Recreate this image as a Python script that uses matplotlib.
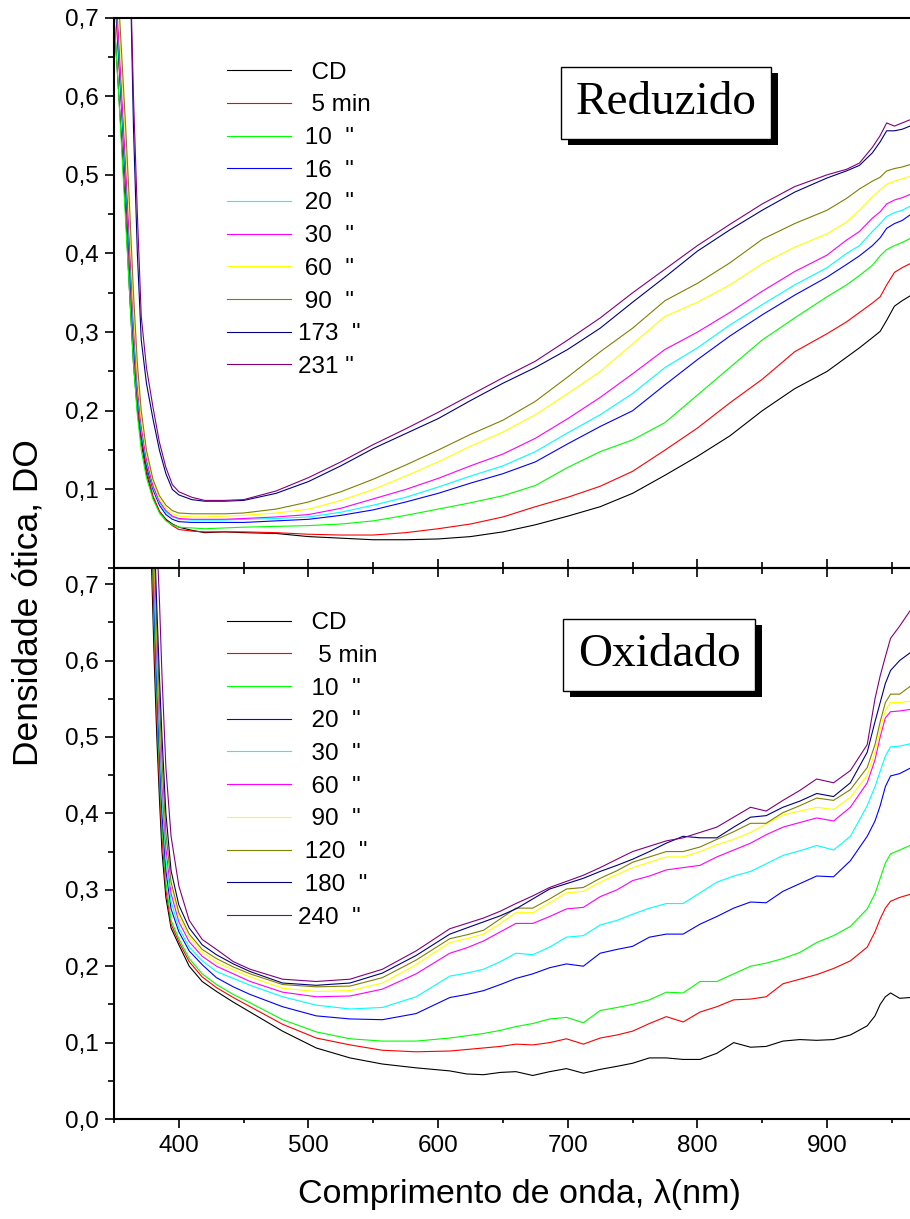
import matplotlib
matplotlib.use("Agg")
import matplotlib.pyplot as plt
import matplotlib.patheffects as pe
from matplotlib.ticker import MultipleLocator, FixedLocator

plt.rcParams['font.family'] = ['Liberation Sans', 'DejaVu Sans']

# ---- Reduzido (top panel) ----
T_WL = [350, 353, 356, 359, 362, 365, 368, 371, 375, 380,
        385, 390, 395, 400, 410, 420, 435, 450, 475, 500,
        525, 550, 575, 600, 625, 650, 675, 700, 725, 750,
        775, 800, 825, 850, 875, 900, 915, 925, 935, 941,
        946, 952, 958, 964]

RED_CD = [0.70, 0.62, 0.54, 0.45, 0.35, 0.26, 0.20, 0.16, 0.12, 0.09,
          0.072, 0.062, 0.056, 0.052, 0.048, 0.045, 0.046, 0.045, 0.044, 0.040,
          0.038, 0.036, 0.036, 0.037, 0.040, 0.046, 0.055, 0.066, 0.078, 0.095,
          0.118, 0.142, 0.168, 0.200, 0.228, 0.250, 0.268, 0.280, 0.293, 0.301,
          0.315, 0.333, 0.340, 0.346]
RED_5 = [0.75, 0.66, 0.58, 0.48, 0.38, 0.28, 0.21, 0.165, 0.125, 0.092,
         0.072, 0.061, 0.054, 0.049, 0.047, 0.046, 0.046, 0.046, 0.045, 0.043,
         0.042, 0.042, 0.045, 0.050, 0.056, 0.065, 0.078, 0.090, 0.104, 0.123,
         0.150, 0.178, 0.210, 0.240, 0.275, 0.298, 0.313, 0.325, 0.337, 0.345,
         0.360, 0.376, 0.382, 0.387]
RED_10 = [0.70, 0.62, 0.53, 0.44, 0.35, 0.26, 0.195, 0.15, 0.115, 0.088,
          0.070, 0.060, 0.055, 0.052, 0.051, 0.050, 0.051, 0.052, 0.053, 0.054,
          0.056, 0.060, 0.067, 0.075, 0.083, 0.092, 0.105, 0.128, 0.148, 0.163,
          0.185, 0.220, 0.255, 0.290, 0.318, 0.345, 0.360, 0.372, 0.385, 0.397,
          0.405, 0.410, 0.414, 0.419]
RED_16 = [0.76, 0.67, 0.58, 0.49, 0.39, 0.29, 0.22, 0.17, 0.13, 0.10,
          0.080, 0.068, 0.062, 0.059, 0.058, 0.058, 0.058, 0.058, 0.060, 0.062,
          0.067, 0.074, 0.084, 0.095, 0.108, 0.120, 0.135, 0.158, 0.180, 0.200,
          0.233, 0.265, 0.295, 0.322, 0.347, 0.370, 0.386, 0.397, 0.410, 0.420,
          0.432, 0.438, 0.442, 0.449]
RED_20 = [0.77, 0.68, 0.59, 0.50, 0.40, 0.30, 0.225, 0.175, 0.135, 0.103,
          0.083, 0.071, 0.065, 0.062, 0.061, 0.061, 0.061, 0.062, 0.063, 0.065,
          0.071, 0.080, 0.090, 0.103, 0.117, 0.130, 0.148, 0.172, 0.195, 0.222,
          0.255, 0.280, 0.309, 0.335, 0.360, 0.382, 0.400, 0.410, 0.428, 0.438,
          0.447, 0.452, 0.455, 0.460]
RED_30 = [0.78, 0.69, 0.60, 0.51, 0.41, 0.31, 0.23, 0.18, 0.138, 0.105,
          0.085, 0.073, 0.066, 0.063, 0.062, 0.062, 0.062, 0.063, 0.065, 0.068,
          0.076, 0.088, 0.100, 0.114, 0.130, 0.145, 0.165, 0.190, 0.217, 0.247,
          0.278, 0.300, 0.325, 0.352, 0.377, 0.398, 0.417, 0.428, 0.445, 0.453,
          0.463, 0.468, 0.471, 0.475]
RED_60 = [0.80, 0.72, 0.63, 0.54, 0.44, 0.33, 0.245, 0.19, 0.145, 0.11,
          0.088, 0.076, 0.069, 0.066, 0.065, 0.065, 0.066, 0.067, 0.070, 0.075,
          0.086, 0.100, 0.117, 0.135, 0.155, 0.173, 0.195, 0.222, 0.250, 0.285,
          0.320, 0.338, 0.360, 0.387, 0.408, 0.425, 0.440, 0.455, 0.472, 0.481,
          0.488, 0.492, 0.495, 0.498]
RED_90 = [0.82, 0.74, 0.65, 0.56, 0.46, 0.35, 0.26, 0.20, 0.15, 0.113,
          0.092, 0.080, 0.073, 0.070, 0.069, 0.069, 0.069, 0.070, 0.075, 0.084,
          0.097, 0.113, 0.131, 0.150, 0.170, 0.188, 0.212, 0.243, 0.275, 0.305,
          0.340, 0.362, 0.388, 0.418, 0.438, 0.455, 0.470, 0.482, 0.492, 0.497,
          0.505, 0.508, 0.510, 0.513]
RED_173 = [0.95, 0.90, 0.85, 0.82, 0.80, 0.56, 0.40, 0.29, 0.235, 0.19,
           0.15, 0.12, 0.10, 0.093, 0.087, 0.085, 0.085, 0.086, 0.095, 0.110,
           0.130, 0.152, 0.171, 0.190, 0.213, 0.235, 0.255, 0.278, 0.305, 0.338,
           0.370, 0.403, 0.430, 0.455, 0.478, 0.496, 0.505, 0.512, 0.528, 0.542,
           0.556, 0.556, 0.558, 0.562]
RED_231 = [1.00, 0.95, 0.90, 0.85, 0.80, 0.60, 0.45, 0.32, 0.255, 0.205,
           0.16, 0.128, 0.106, 0.097, 0.090, 0.086, 0.086, 0.087, 0.098, 0.115,
           0.135, 0.157, 0.177, 0.198, 0.220, 0.242, 0.263, 0.290, 0.318, 0.350,
           0.380, 0.410, 0.437, 0.463, 0.485, 0.500, 0.507, 0.515, 0.535, 0.550,
           0.566, 0.562, 0.566, 0.570]

RED_SERIES = [RED_CD, RED_5, RED_10, RED_16, RED_20, RED_30, RED_60, RED_90, RED_173, RED_231]
RED_LABELS = ['  CD', '  5 min', ' 10  "', ' 16  "', ' 20  "', ' 30  "', ' 60  "', ' 90  "',
              '173  "', '231 "']

# ---- Oxidado (bottom panel) ----
B_WL = [376, 379, 381, 383, 385, 387, 390, 394, 400, 408,
        418, 429, 442, 455, 480, 506, 532, 557, 583, 609,
        622, 635, 648, 660, 673, 686, 699, 712, 725, 738,
        750, 763, 776, 789, 802, 815, 828, 841, 853, 866,
        879, 892, 905, 918, 931, 937, 941, 945, 949, 956, 964]

OX_CD = [0.95, 0.72, 0.60, 0.50, 0.42, 0.35, 0.29, 0.25, 0.228, 0.20,
         0.18, 0.167, 0.153, 0.14, 0.115, 0.093, 0.08, 0.072, 0.067, 0.063,
         0.059, 0.058, 0.061, 0.062, 0.057, 0.062, 0.066, 0.060, 0.065, 0.069,
         0.073, 0.080, 0.080, 0.078, 0.078, 0.086, 0.100, 0.094, 0.095, 0.102,
         0.104, 0.103, 0.104, 0.110, 0.122, 0.135, 0.150, 0.160, 0.165, 0.158, 0.159]
OX_5 = [0.97, 0.76, 0.63, 0.53, 0.44, 0.37, 0.30, 0.255, 0.232, 0.206,
        0.186, 0.172, 0.159, 0.147, 0.124, 0.106, 0.097, 0.09, 0.088, 0.089,
        0.091, 0.093, 0.095, 0.098, 0.097, 0.100, 0.105, 0.098, 0.106, 0.110,
        0.115, 0.125, 0.134, 0.127, 0.140, 0.147, 0.156, 0.157, 0.160, 0.177,
        0.183, 0.189, 0.197, 0.207, 0.225, 0.245, 0.262, 0.276, 0.285, 0.290, 0.294]
OX_10 = [0.99, 0.78, 0.65, 0.55, 0.46, 0.385, 0.31, 0.26, 0.236, 0.21,
         0.19, 0.176, 0.163, 0.152, 0.13, 0.114, 0.105, 0.102, 0.102, 0.106,
         0.109, 0.112, 0.116, 0.121, 0.125, 0.131, 0.133, 0.126, 0.142, 0.146,
         0.150, 0.156, 0.166, 0.165, 0.18, 0.18, 0.19, 0.2, 0.204, 0.21,
         0.218, 0.231, 0.24, 0.252, 0.275, 0.295, 0.315, 0.335, 0.347, 0.352, 0.358]
OX_20 = [1.0, 0.80, 0.67, 0.57, 0.48, 0.40, 0.325, 0.275, 0.245, 0.22,
         0.202, 0.185, 0.173, 0.163, 0.147, 0.135, 0.131, 0.13, 0.138, 0.159,
         0.163, 0.168, 0.176, 0.184, 0.19, 0.198, 0.203, 0.200, 0.217, 0.222,
         0.226, 0.238, 0.242, 0.242, 0.255, 0.265, 0.276, 0.284, 0.283, 0.298,
         0.308, 0.318, 0.317, 0.338, 0.37, 0.39, 0.41, 0.435, 0.449, 0.452, 0.459]
OX_30 = [1.0, 0.82, 0.69, 0.59, 0.50, 0.42, 0.34, 0.285, 0.25, 0.225,
         0.207, 0.193, 0.184, 0.175, 0.16, 0.149, 0.144, 0.146, 0.16, 0.187,
         0.191, 0.196, 0.206, 0.217, 0.215, 0.225, 0.238, 0.240, 0.254, 0.26,
         0.268, 0.276, 0.282, 0.282, 0.296, 0.31, 0.318, 0.324, 0.334, 0.345,
         0.351, 0.358, 0.352, 0.37, 0.41, 0.435, 0.455, 0.475, 0.487, 0.488, 0.491]
OX_60 = [1.0, 0.84, 0.71, 0.61, 0.52, 0.44, 0.355, 0.295, 0.258, 0.232,
         0.213, 0.2, 0.19, 0.18, 0.166, 0.16, 0.161, 0.17, 0.19, 0.217,
         0.224, 0.233, 0.245, 0.256, 0.256, 0.265, 0.275, 0.277, 0.291, 0.30,
         0.312, 0.318, 0.326, 0.329, 0.332, 0.343, 0.352, 0.361, 0.372, 0.382,
         0.388, 0.394, 0.39, 0.408, 0.44, 0.47, 0.5, 0.525, 0.533, 0.534, 0.536]
OX_90 = [1.0, 0.86, 0.73, 0.63, 0.54, 0.46, 0.37, 0.305, 0.265, 0.238,
         0.218, 0.205, 0.195, 0.186, 0.171, 0.167, 0.168, 0.178, 0.202, 0.231,
         0.236, 0.242, 0.256, 0.27, 0.27, 0.283, 0.296, 0.298, 0.31, 0.32,
         0.329, 0.336, 0.343, 0.343, 0.35, 0.359, 0.366, 0.375, 0.386, 0.398,
         0.403, 0.408, 0.405, 0.421, 0.45, 0.48, 0.51, 0.535, 0.545, 0.545, 0.547]
OX_120 = [1.0, 0.87, 0.74, 0.64, 0.55, 0.47, 0.375, 0.31, 0.27, 0.242,
          0.222, 0.21, 0.199, 0.19, 0.176, 0.173, 0.174, 0.185, 0.208, 0.236,
          0.241, 0.247, 0.262, 0.276, 0.276, 0.288, 0.301, 0.303, 0.315, 0.325,
          0.336, 0.343, 0.35, 0.35, 0.356, 0.366, 0.376, 0.387, 0.387, 0.401,
          0.41, 0.42, 0.417, 0.431, 0.46, 0.49, 0.52, 0.545, 0.556, 0.556, 0.566]
OX_180 = [1.0, 0.9, 0.77, 0.67, 0.58, 0.50, 0.40, 0.325, 0.28, 0.25,
          0.228, 0.215, 0.203, 0.193, 0.178, 0.175, 0.178, 0.191, 0.214, 0.242,
          0.25, 0.258, 0.266, 0.275, 0.288, 0.301, 0.308, 0.315, 0.324, 0.332,
          0.34, 0.35, 0.361, 0.37, 0.368, 0.368, 0.382, 0.395, 0.397, 0.408,
          0.416, 0.426, 0.422, 0.44, 0.48, 0.52, 0.545, 0.57, 0.587, 0.6, 0.61]
OX_240 = [1.0, 0.95, 0.85, 0.76, 0.68, 0.58, 0.46, 0.37, 0.305, 0.26,
          0.235, 0.222, 0.206, 0.196, 0.183, 0.18, 0.183, 0.196, 0.22, 0.249,
          0.256, 0.263, 0.272, 0.282, 0.292, 0.303, 0.311, 0.319, 0.329, 0.34,
          0.35, 0.357, 0.364, 0.368, 0.375, 0.382, 0.395, 0.408, 0.403, 0.417,
          0.43, 0.445, 0.44, 0.456, 0.49, 0.55, 0.58, 0.605, 0.629, 0.645, 0.665]

OX_SERIES = [OX_CD, OX_5, OX_10, OX_20, OX_30, OX_60, OX_90, OX_120, OX_180, OX_240]
OX_LABELS = ['  CD', '   5 min', '  10  "', '  20  "', '  30  "', '  60  "', '  90  "',
             ' 120  "', ' 180  "', '240  "']

COLORS = ['#000000', '#ff0000', '#00ff00', '#0000ff', '#00ffff',
          '#ff00ff', '#ffff00', '#808000', '#000080', '#800080']

Y_TOP_TICKS = [0.1, 0.2, 0.3, 0.4, 0.5, 0.6, 0.7]
Y_TOP_LABELS = ['0,1', '0,2', '0,3', '0,4', '0,5', '0,6', '0,7']
Y_BOT_TICKS = [0.0, 0.1, 0.2, 0.3, 0.4, 0.5, 0.6, 0.7]
Y_BOT_LABELS = ['0,0', '0,1', '0,2', '0,3', '0,4', '0,5', '0,6', '0,7']

fig = plt.figure(figsize=(9.1, 12.19), dpi=100)
ax1 = fig.add_axes([0.1253, 0.534, 0.8747, 0.4516])
ax2 = fig.add_axes([0.1253, 0.082, 0.8747, 0.452])
ax1.set_zorder(3)
ax1.patch.set_alpha(0)

for ys, c, lab in zip(RED_SERIES, COLORS, RED_LABELS):
    ax1.plot(T_WL, ys, color=c, lw=0.8, label=lab)
for ys, c, lab in zip(OX_SERIES, COLORS, OX_LABELS):
    ax2.plot(B_WL, ys, color=c, lw=0.8, label=lab)

for ax in (ax1, ax2):
    ax.set_xlim(350, 964)
    ax.spines['right'].set_visible(False)
    for s in ('left', 'top', 'bottom'):
        ax.spines[s].set_linewidth(1.5)
    ax.xaxis.set_major_locator(MultipleLocator(100))
    ax.xaxis.set_minor_locator(MultipleLocator(50))
    ax.yaxis.set_minor_locator(MultipleLocator(0.05))
    ax.tick_params(axis='y', which='major', direction='out', length=6.8, width=1.2,
                   labelsize=17.5, pad=4, right=False)
    ax.tick_params(axis='y', which='minor', direction='out', length=4.3, width=1.2, right=False)
    leg = ax.legend(loc='upper left', bbox_to_anchor=(0.142, 0.92), frameon=False,
                    fontsize=17.5, handlelength=2.63, handletextpad=0.3,
                    labelspacing=0.44, borderpad=0, borderaxespad=0)

ax1.set_ylim(0, 0.7)
ax1.yaxis.set_major_locator(FixedLocator(Y_TOP_TICKS))
ax1.set_yticklabels(Y_TOP_LABELS)
ax1.tick_params(axis='x', which='major', direction='inout', length=13, width=1.2,
                labelbottom=False, top=False)
ax1.tick_params(axis='x', which='minor', direction='inout', length=8.6, width=1.2, top=False)

ax2.set_ylim(0, 0.721)
ax2.yaxis.set_major_locator(FixedLocator(Y_BOT_TICKS))
ax2.set_yticklabels(Y_BOT_LABELS)
ax2.tick_params(axis='x', which='major', direction='out', length=6.5, width=1.2,
                labelsize=17.5, pad=5, top=False)
ax2.tick_params(axis='x', which='minor', direction='out', length=3, width=1.2, top=False)

for ax, txt, x, y in ((ax1, 'Reduzido', 0.6935, 0.845), (ax2, 'Oxidado', 0.685, 0.842)):
    t = ax.text(x, y, txt, transform=ax.transAxes, ha='center', va='center',
                fontsize=34, family='Liberation Serif', zorder=5,
                bbox=dict(boxstyle='square,pad=0.31', fc='white', ec='black', lw=1.0))
    t.get_bbox_patch().set_path_effects([
        pe.SimplePatchShadow(offset=(5, -4.5), shadow_rgbFace='black', alpha=1.0),
        pe.Normal()])

fig.text(0.031, 0.506, 'Densidade ótica, DO', rotation=90, ha='center', va='center', fontsize=25.5)
fig.text(0.571, 0.0131, 'Comprimento de onda, λ(nm)', ha='center', va='baseline', fontsize=24.5)

fig.savefig('out.png', dpi=100)
